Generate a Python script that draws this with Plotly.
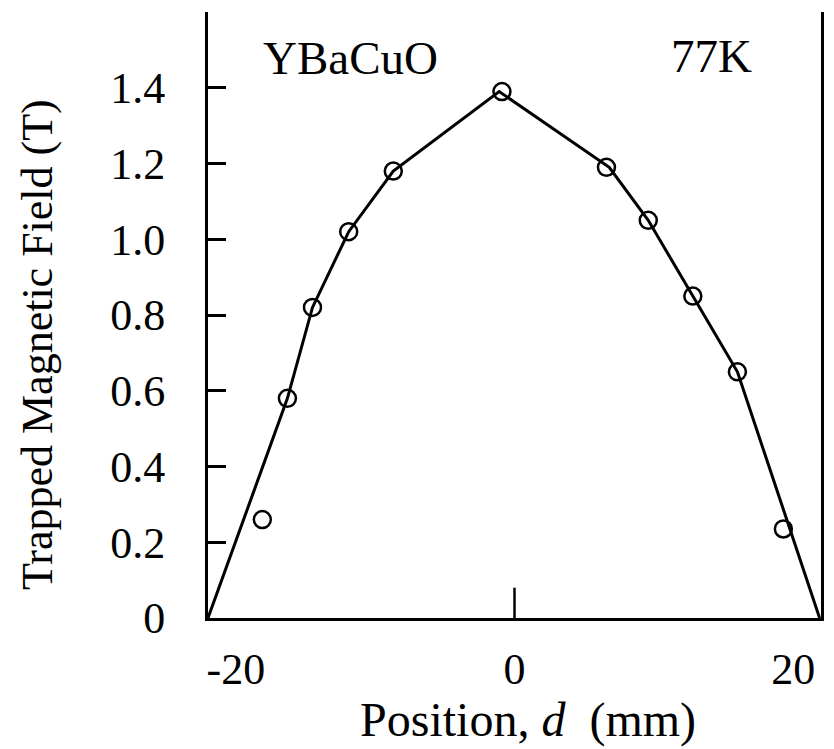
import plotly.graph_objects as go

# measured points
pos_mm = [-18.1, -16.3, -14.5, -11.9, -8.7, -0.9, 6.6, 9.6, 12.8, 16.0, 19.3]
field_T = [0.26, 0.58, 0.82, 1.02, 1.18, 1.39, 1.19, 1.05, 0.85, 0.65, 0.235]

# fitted line vertices
line_x = [-22.0, -16.3, -14.5, -11.9, -8.7, -1.1, 6.8, 9.6, 12.8, 16.0, 21.9]
line_y = [0.0, 0.58, 0.82, 1.02, 1.18, 1.39, 1.19, 1.05, 0.85, 0.65, 0.0]

x_ticks = [-20, 0, 20]
x_tick_text = ["-20", "0", "20"]
y_ticks = [0, 0.2, 0.4, 0.6, 0.8, 1.0, 1.2, 1.4]
y_tick_text = ["0", "0.2", "0.4", "0.6", "0.8", "1.0", "1.2", "1.4"]

FONT = "Liberation Serif, Times New Roman, serif"
FS = 44

fig = go.Figure()
fig.add_trace(go.Scatter(x=line_x, y=line_y, mode="lines",
                         line=dict(color="black", width=3), showlegend=False))
fig.add_trace(go.Scatter(x=pos_mm, y=field_T, mode="markers",
                         marker=dict(symbol="circle-open", size=17, color="black",
                                     line=dict(width=2.5, color="black")),
                         showlegend=False))

fig.update_layout(
    width=826, height=741,
    margin=dict(l=200, r=13, t=4, b=131),
    paper_bgcolor="white", plot_bgcolor="white",
    font=dict(family=FONT, size=FS, color="black"),
    xaxis=dict(range=[-22, 22], tickvals=x_ticks, ticktext=x_tick_text,
               ticks="", showgrid=False, zeroline=False,
               showline=True, linecolor="black", linewidth=3,
               ticklabelstandoff=10, tickfont=dict(family=FONT, size=FS)),
    yaxis=dict(range=[0, 1.6], tickvals=y_ticks, ticktext=y_tick_text,
               ticks="inside", ticklen=18, tickwidth=2.5, tickcolor="black",
               showgrid=False, zeroline=False,
               showline=True, linecolor="black", linewidth=3, mirror=True,
               ticklabelstandoff=31, tickfont=dict(family=FONT, size=FS)),
)

# single inward tick at x = 0
fig.add_shape(type="line", xref="x", yref="paper", x0=0, x1=0, y0=0, y1=0.05,
              line=dict(color="black", width=2.5))

fig.add_annotation(text="Position, <i>d</i>\u00a0\u00a0(mm)", xref="paper", yref="paper",
                   x=0.522, y=-0.168, showarrow=False, xanchor="center", yanchor="middle",
                   font=dict(family=FONT, size=48))
fig.add_annotation(text="Trapped Magnetic Field (T)", xref="paper", yref="paper",
                   x=-0.279, y=0.452, showarrow=False, textangle=-90,
                   xanchor="center", yanchor="middle",
                   font=dict(family=FONT, size=44))
fig.add_annotation(text="YBaCuO", xref="paper", yref="paper", x=0.232, y=0.924,
                   showarrow=False, xanchor="center", yanchor="middle",
                   font=dict(family=FONT, size=47))
fig.add_annotation(text="77K", xref="paper", yref="paper", x=0.821, y=0.927,
                   showarrow=False, xanchor="center", yanchor="middle",
                   font=dict(family=FONT, size=47))

fig.write_html("out.html")
